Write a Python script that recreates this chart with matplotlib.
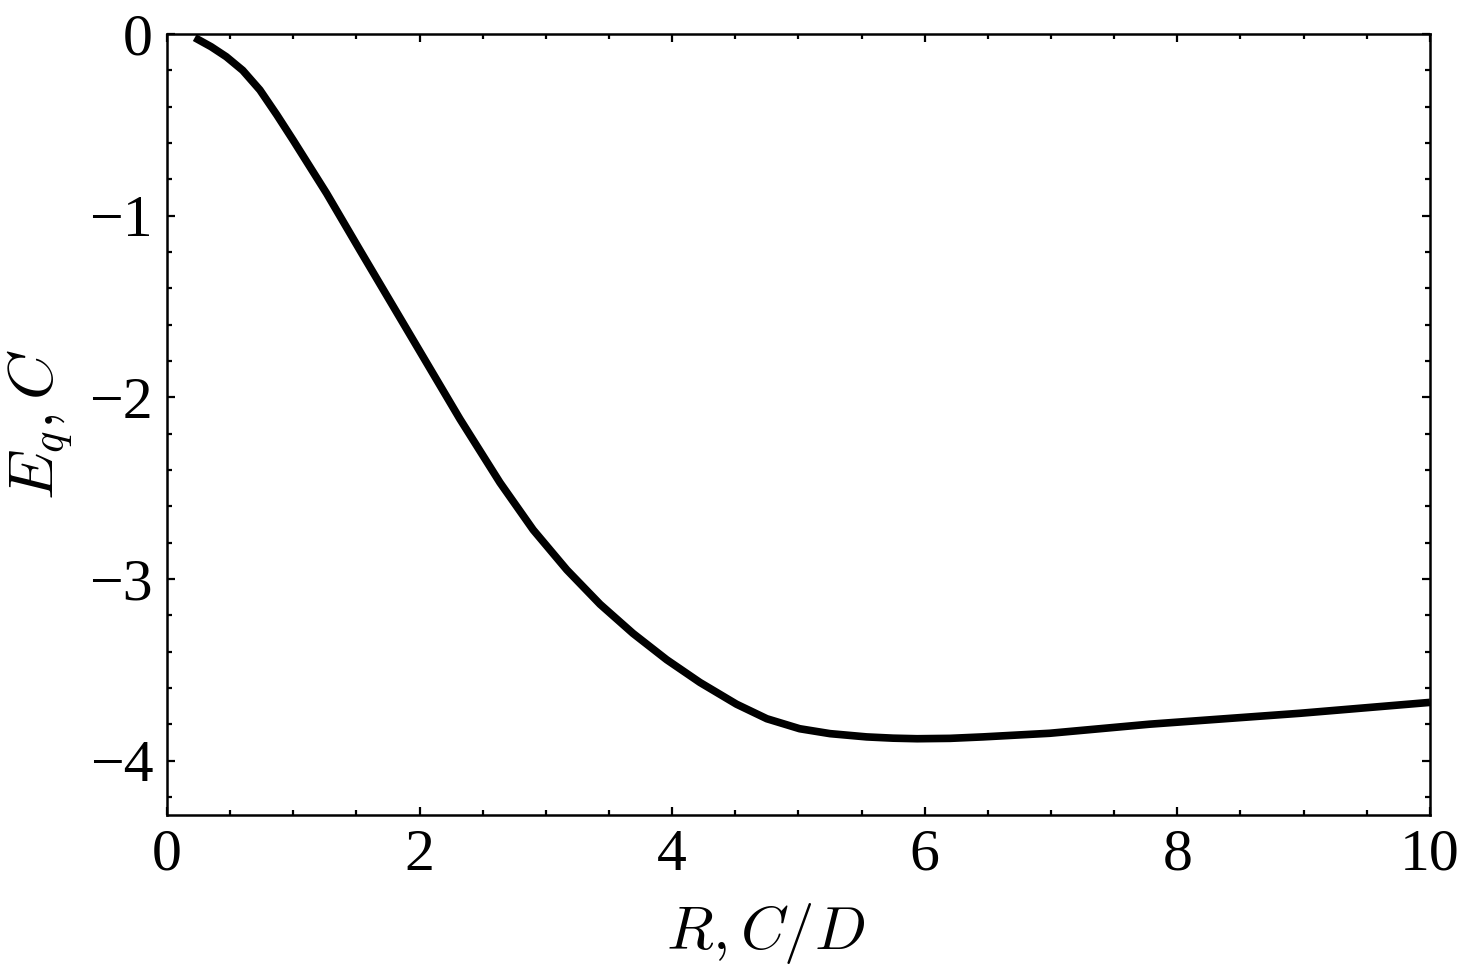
import matplotlib
matplotlib.use("Agg")
import matplotlib.pyplot as plt
from matplotlib.ticker import MultipleLocator

plt.rcParams['font.family'] = ['Liberation Serif', 'DejaVu Serif']
plt.rcParams['mathtext.fontset'] = 'cm'

R = [0.22, 0.35, 0.47, 0.6, 0.736, 0.87, 1.0, 1.264, 1.528, 1.792, 2.056, 2.32, 2.637,
     2.9, 3.166, 3.43, 3.69, 3.957, 4.22, 4.51, 4.75, 5.01, 5.25, 5.54, 5.75, 5.94,
     6.2, 6.46, 6.99, 7.78, 8.97, 10.0]
Eq = [-0.02, -0.07, -0.125, -0.2, -0.308, -0.445, -0.585, -0.877, -1.19, -1.50, -1.81, -2.12, -2.47,
      -2.73, -2.95, -3.14, -3.30, -3.445, -3.57, -3.69, -3.77, -3.825, -3.852, -3.87, -3.877, -3.88,
      -3.878, -3.87, -3.85, -3.80, -3.74, -3.68]

xticks = [0, 2, 4, 6, 8, 10]
yticks = [0, -1, -2, -3, -4]

fig = plt.figure(figsize=(14.63, 9.75), dpi=100)
ax = fig.add_axes([0.1141, 0.1641, 0.9774 - 0.1141, 0.9651 - 0.1641])
ax.plot(R, Eq, color='black', lw=5.5, solid_capstyle='butt', solid_joinstyle='round')
ax.set_xlim(0, 10)
ax.set_ylim(-4.3, 0)
ax.set_xticks(xticks)
ax.set_yticks(yticks)
ax.xaxis.set_minor_locator(MultipleLocator(0.5))
ax.yaxis.set_minor_locator(MultipleLocator(0.2))
ax.tick_params(which='both', direction='in', top=True, right=True, width=1.6, labelsize=43, pad=10)
ax.tick_params(which='major', length=6)
ax.tick_params(which='minor', length=3.6)
for s in ax.spines.values():
    s.set_linewidth(1.8)
ax.set_xlabel(r'$R, C/D$', fontsize=44, labelpad=13)
ax.xaxis.label.set_x(0.474)
ax.set_ylabel(r'$E_q, C$', fontsize=46, labelpad=10)
fig.savefig('out.png', dpi=100)
